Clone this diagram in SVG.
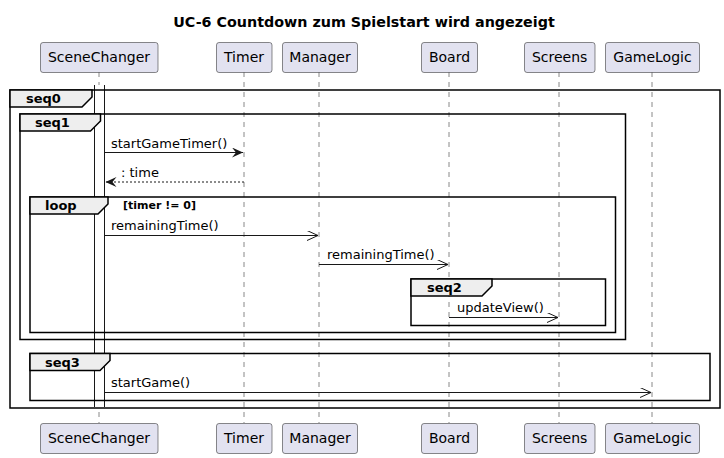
<svg xmlns="http://www.w3.org/2000/svg" width="724" height="458" viewBox="0 0 724 458">
<defs>
<style>
text{font-family:"DejaVu Sans","Liberation Sans",sans-serif;fill:#000}
.title{font-size:14.3px;font-weight:bold}
.pbox{fill:#E2E2F0;stroke:#181818;stroke-width:0.5}
.pt{font-size:14px;text-anchor:middle}
.life{stroke:#888;stroke-width:1;stroke-dasharray:5,5}
.frame{fill:none;stroke:#000;stroke-width:1.5}
.tab{fill:#EEEEEE;stroke:#000;stroke-width:1.5}
.gl{font-size:13px;font-weight:bold}
.guard{font-size:11px;font-weight:bold}
.msg{stroke:#181818;stroke-width:1;fill:none}
.ml{font-size:13px}
.act{stroke:#181818;stroke-width:1}
</style>
<marker id="filled" viewBox="0 0 12 10" markerWidth="12" markerHeight="10" refX="11" refY="5" orient="auto" markerUnits="userSpaceOnUse">
<polygon points="0,0 11,5 0,10 4,5" fill="#181818"/>
</marker>
<marker id="open" viewBox="0 0 12 10" markerWidth="12" markerHeight="10" refX="11" refY="5" orient="auto" markerUnits="userSpaceOnUse">
<polyline points="0,0 11,5 0,10" fill="none" stroke="#181818" stroke-width="1"/>
</marker>
</defs>
<text class="title" x="364" y="27" text-anchor="middle">UC-6 Countdown zum Spielstart wird angezeigt</text>

<g id="lifelines">
<line class="life" x1="99" y1="72" x2="99" y2="423"/>
<line class="life" x1="244" y1="72" x2="244" y2="423"/>
<line class="life" x1="319" y1="72" x2="319" y2="423"/>
<line class="life" x1="449" y1="72" x2="449" y2="423"/>
<line class="life" x1="559" y1="72" x2="559" y2="423"/>
<line class="life" x1="652" y1="72" x2="652" y2="423"/>
</g>

<g id="activation">
<rect x="94.5" y="85" width="10" height="322" fill="#fff" stroke="none"/>
<line class="act" x1="94.5" y1="85" x2="94.5" y2="407"/>
<line class="act" x1="104.5" y1="85" x2="104.5" y2="407"/>
</g>

<g id="SceneChanger">
<rect class="pbox" x="40.5" y="42.5" width="117.5" height="30" rx="2.5"/>
<text class="pt" x="99" y="62">SceneChanger</text>
<rect class="pbox" x="40.5" y="423.5" width="117.5" height="30" rx="2.5"/>
<text class="pt" x="99" y="443">SceneChanger</text>
</g>
<g id="Timer">
<rect class="pbox" x="216.5" y="42.5" width="55.5" height="30" rx="2.5"/>
<text class="pt" x="244" y="62">Timer</text>
<rect class="pbox" x="216.5" y="423.5" width="55.5" height="30" rx="2.5"/>
<text class="pt" x="244" y="443">Timer</text>
</g>
<g id="Manager">
<rect class="pbox" x="282.5" y="42.5" width="75" height="30" rx="2.5"/>
<text class="pt" x="320" y="62">Manager</text>
<rect class="pbox" x="282.5" y="423.5" width="75" height="30" rx="2.5"/>
<text class="pt" x="320" y="443">Manager</text>
</g>
<g id="Board">
<rect class="pbox" x="421.5" y="42.5" width="56" height="30" rx="2.5"/>
<text class="pt" x="449.5" y="62">Board</text>
<rect class="pbox" x="421.5" y="423.5" width="56" height="30" rx="2.5"/>
<text class="pt" x="449.5" y="443">Board</text>
</g>
<g id="Screens">
<rect class="pbox" x="524.5" y="42.5" width="70.5" height="30" rx="2.5"/>
<text class="pt" x="559.7" y="62">Screens</text>
<rect class="pbox" x="524.5" y="423.5" width="70.5" height="30" rx="2.5"/>
<text class="pt" x="559.7" y="443">Screens</text>
</g>
<g id="GameLogic">
<rect class="pbox" x="605.5" y="42.5" width="94" height="30" rx="2.5"/>
<text class="pt" x="652.5" y="62">GameLogic</text>
<rect class="pbox" x="605.5" y="423.5" width="94" height="30" rx="2.5"/>
<text class="pt" x="652.5" y="443">GameLogic</text>
</g>

<g id="seq0">
<rect class="frame" x="10" y="90" width="710" height="318"/>
<polygon class="tab" points="10,90 92,90 92,97 82,107 10,107"/>
<text class="gl" x="26" y="103">seq0</text>
</g>
<g id="seq1">
<rect class="frame" x="20" y="114" width="605.5" height="225.5"/>
<polygon class="tab" points="20,114 100.5,114 100.5,121 90.5,131 20,131"/>
<text class="gl" x="35" y="127">seq1</text>
</g>
<g id="loop">
<rect class="frame" x="30" y="197" width="585.5" height="135.5"/>
<polygon class="tab" points="30,197 108,197 108,204 98,214 30,214"/>
<text class="gl" x="45" y="210">loop</text>
<text class="guard" x="123" y="209">[timer != 0]</text>
</g>
<g id="seq2">
<rect class="frame" x="411" y="279" width="194.5" height="46.5"/>
<polygon class="tab" points="411,279 492,279 492,286 482,296 411,296"/>
<text class="gl" x="427" y="292">seq2</text>
</g>
<g id="seq3">
<rect class="frame" x="30" y="353.5" width="680" height="47"/>
<polygon class="tab" points="30,353.5 110,353.5 110,360.5 100,370.5 30,370.5"/>
<text class="gl" x="45" y="367">seq3</text>
</g>

<g id="connectors">
<line class="msg" x1="104.5" y1="152.5" x2="243" y2="152.5" marker-end="url(#filled)"/>
<text class="ml" x="111" y="148">startGameTimer()</text>
<line class="msg" x1="244" y1="182" x2="105.5" y2="182" stroke-dasharray="2,2" marker-end="url(#filled)"/>
<text class="ml" x="121" y="177">: time</text>
<line class="msg" x1="104.5" y1="235.5" x2="318" y2="235.5" marker-end="url(#open)"/>
<text class="ml" x="111" y="230">remainingTime()</text>
<line class="msg" x1="319" y1="264.5" x2="448" y2="264.5" marker-end="url(#open)"/>
<text class="ml" x="327" y="259">remainingTime()</text>
<line class="msg" x1="449" y1="317.5" x2="558" y2="317.5" marker-end="url(#open)"/>
<text class="ml" x="457" y="312">updateView()</text>
<line class="msg" x1="104.5" y1="392.5" x2="651" y2="392.5" marker-end="url(#open)"/>
<text class="ml" x="111" y="387">startGame()</text>
</g>
</svg>
